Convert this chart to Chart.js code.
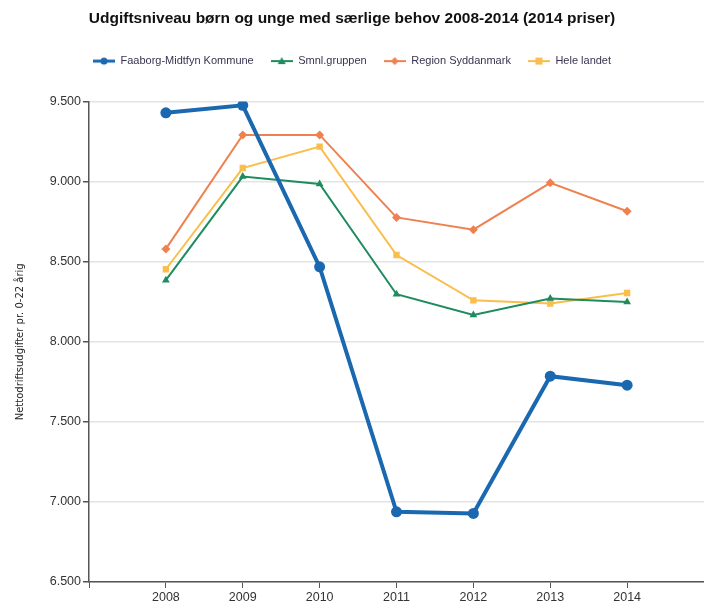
<!DOCTYPE html>
<html>
<head>
<meta charset="utf-8">
<script src="https://cdn.jsdelivr.net/npm/chart.js@4.4.1/dist/chart.umd.min.js"></script>
<style>
  html, body { margin: 0; padding: 0; background: #fff; }
  #wrap { width: 704px; height: 608px; }
</style>
</head>
<body>
<div id="wrap"><canvas id="chart" width="704" height="608"></canvas></div>
<script>
const years = [2008, 2009, 2010, 2011, 2012, 2013, 2014];
const faaborg = [9430, 9477, 8468, 6938, 6928, 7785, 7729];
const smnl = [8385, 9032, 8986, 8297, 8168, 8270, 8248];
const region = [8580, 9292, 9292, 8777, 8700, 8993, 8815];
const heleLandet = [8453, 9085, 9219, 8542, 8259, 8239, 8305];

const seriesNames = ['Faaborg-Midtfyn Kommune', 'Smnl.gruppen', 'Region Syddanmark', 'Hele landet'];
const seriesColors = ['#1a68b0', '#1e8c5e', '#ef8150', '#fbbd4c'];
const seriesStyles = ['circle', 'triangle', 'rectRot', 'rect'];

const fmt = v => v.toLocaleString('da-DK');

// lille legend-symbol: streg med markør i midten
function legendIcon(color, style, thick) {
    const c = document.createElement('canvas');
    c.width = 22; c.height = 10;
    const g = c.getContext('2d');
    g.strokeStyle = color;
    g.lineWidth = thick ? 3 : 2;
    g.beginPath(); g.moveTo(0, 5); g.lineTo(22, 5); g.stroke();
    g.fillStyle = color;
    g.beginPath();
    if (style === 'circle') g.arc(11, 5, 3.5, 0, Math.PI * 2);
    else if (style === 'triangle') { g.moveTo(11, 1); g.lineTo(15, 8); g.lineTo(7, 8); }
    else if (style === 'rectRot') { g.moveTo(11, 1); g.lineTo(15, 5); g.lineTo(11, 9); g.lineTo(7, 5); }
    else g.rect(7.5, 1.5, 7, 7);
    g.fill();
    return c;
}

function mkSet(i, data) {
    const thick = i === 0;
    return {
        label: seriesNames[i],
        data: years.map((y, k) => ({ x: y, y: data[k] })),
        borderColor: seriesColors[i],
        backgroundColor: seriesColors[i],
        borderWidth: thick ? 4 : 2,
        pointStyle: seriesStyles[i],
        pointRadius: thick ? 5.5 : 4.5,
        pointBorderWidth: 0,
        tension: 0,
        icon: legendIcon(seriesColors[i], seriesStyles[i], thick)
    };
}

const legendSpacer = {
    id: 'legendSpacer',
    beforeInit(chart) {
        const fit = chart.legend.fit;
        chart.legend.fit = function () {
            fit.bind(this)();
            this.height = 63;
        };
    }
};

new Chart(document.getElementById('chart'), {
    type: 'line',
    data: {
        datasets: [mkSet(0, faaborg), mkSet(1, smnl), mkSet(2, region), mkSet(3, heleLandet)]
    },
    plugins: [legendSpacer],
    options: {
        responsive: false,
        animation: false,
        layout: { autoPadding: false, padding: { left: 0, right: 0, top: 0, bottom: 0 } },
        plugins: {
            title: {
                display: true,
                text: 'Udgiftsniveau børn og unge med særlige behov 2008-2014 (2014 priser)',
                color: '#111',
                font: { family: 'Liberation Sans', size: 15.5, weight: 'bold' },
                padding: { top: 9, bottom: 11 }
            },
            legend: {
                labels: {
                    usePointStyle: true,
                    pointStyleWidth: 22,
                    boxHeight: 10,
                    padding: 17,
                    color: '#3a3350',
                    font: { family: 'Liberation Sans', size: 11 },
                    generateLabels(chart) {
                        return chart.data.datasets.map((ds, i) => ({
                            text: ds.label,
                            fillStyle: ds.borderColor,
                            strokeStyle: ds.borderColor,
                            pointStyle: ds.icon,
                            lineWidth: 0,
                            fontColor: '#3a3350',
                            hidden: false,
                            datasetIndex: i
                        }));
                    }
                }
            },
            tooltip: { enabled: false }
        },
        scales: {
            x: {
                type: 'linear',
                min: 2007,
                max: 2015,
                afterFit(s) { s.height = 26; s.paddingRight = 0; },
                ticks: {
                    stepSize: 1,
                    autoSkip: false,
                    maxRotation: 0,
                    color: '#333',
                    font: { family: 'Liberation Sans', size: 12.5 },
                    padding: 2,
                    callback: v => (v >= 2008 && v <= 2014) ? String(v) : ''
                },
                grid: { drawOnChartArea: false, tickLength: 6, tickColor: '#555' },
                border: { color: '#555', width: 1.5 }
            },
            y: {
                min: 6500,
                max: 9500,
                afterFit(s) { s.width = 89; },
                ticks: {
                    stepSize: 500,
                    color: '#333',
                    font: { family: 'Liberation Sans', size: 12.5 },
                    padding: 2,
                    callback: v => fmt(v)
                },
                title: {
                    display: true,
                    text: 'Nettodriftsudgifter pr. 0-22 årig',
                    color: '#222',
                    font: { family: 'DejaVu Sans', size: 10 },
                    padding: { top: 14, bottom: 4 }
                },
                grid: { color: '#e4e4e4', lineWidth: 1.5, tickLength: 6, tickColor: '#555' },
                border: { color: '#555', width: 1.5 }
            }
        }
    }
});
</script>
</body>
</html>
